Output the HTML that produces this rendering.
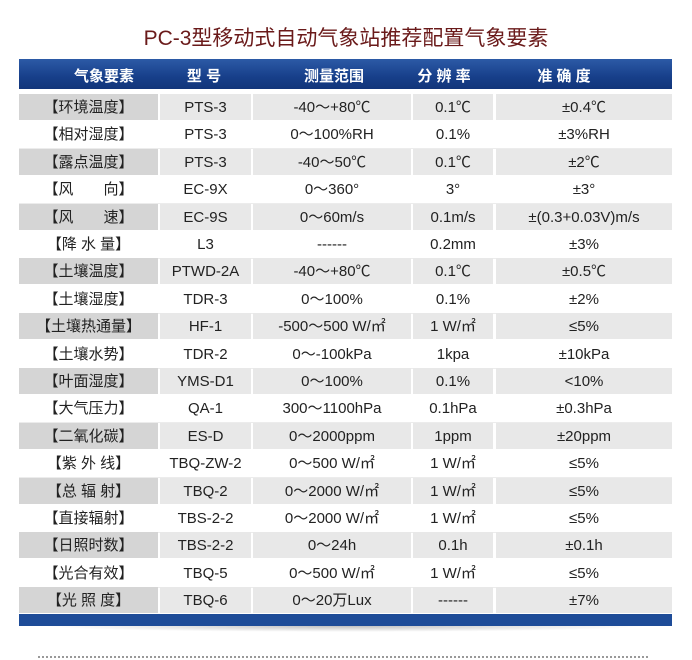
<!DOCTYPE html><html><head><meta charset="utf-8"><style>
body{margin:0;width:692px;height:660px;background:#fff;font-family:"Liberation Sans","Noto Sans CJK SC",sans-serif;position:relative;overflow:hidden}
.t{position:absolute;top:22px;left:0;width:692px;text-align:center;font-size:21px;color:#6a1a1a}
.h{position:absolute;left:19px;top:59px;width:653px;height:30px;background:linear-gradient(#2c5aa6,#173f8a 60%,#12357a)}
.h span{position:absolute;top:6px;color:#fff;font-weight:bold;font-size:15px;text-align:center}
.r{position:absolute;left:19px;width:653px;height:27px;font-size:15px;color:#222}
.r div{position:absolute;top:0;height:26px;line-height:27px;text-align:center;white-space:pre}
.g div{background:#e8e8e8}.g div:first-child{background:#d5d5d5}
.w{border-bottom:1px solid #ececec}
.b{position:absolute;left:19px;top:614px;width:653px;height:12px;background:#1e4c98}
.s{position:absolute;left:40px;top:626px;width:610px;height:6px;background:radial-gradient(ellipse at center top,rgba(0,0,0,.25),rgba(0,0,0,0) 70%)}
.d{position:absolute;left:38px;top:656px;width:610px;border-top:2px dotted #999}
</style></head><body>
<div class="t">PC-3型移动式自动气象站推荐配置气象要素</div>
<div class="h"><span style="left:30px;width:110px">气象要素</span><span style="left:150px;width:70px">型 号</span><span style="left:250px;width:130px">测量范围</span><span style="left:385px;width:80px">分 辨 率</span><span style="left:480px;width:130px">准 确 度</span></div>
<div id="rows"></div>
<div class="b"></div><div class="s"></div><div class="d"></div>
<script>
var d=[["【环境温度】","PTS-3","-40～+80℃","0.1℃","±0.4℃"],["【相对湿度】","PTS-3","0～100%RH","0.1%","±3%RH"],["【露点温度】","PTS-3","-40～50℃","0.1℃","±2℃"],["【风　　向】","EC-9X","0～360°","3°","±3°"],["【风　　速】","EC-9S","0～60m/s","0.1m/s","±(0.3+0.03V)m/s"],["【降 水 量】","L3","------","0.2mm","±3%"],["【土壤温度】","PTWD-2A","-40～+80℃","0.1℃","±0.5℃"],["【土壤湿度】","TDR-3","0～100%","0.1%","±2%"],["【土壤热通量】","HF-1","-500～500 W/㎡","1 W/㎡","≤5%"],["【土壤水势】","TDR-2","0～-100kPa","1kpa","±10kPa"],["【叶面湿度】","YMS-D1","0～100%","0.1%","<10%"],["【大气压力】","QA-1","300～1100hPa","0.1hPa","±0.3hPa"],["【二氧化碳】","ES-D","0～2000ppm","1ppm","±20ppm"],["【紫 外 线】","TBQ-ZW-2","0～500 W/㎡","1 W/㎡","≤5%"],["【总 辐 射】","TBQ-2","0～2000 W/㎡","1 W/㎡","≤5%"],["【直接辐射】","TBS-2-2","0～2000 W/㎡","1 W/㎡","≤5%"],["【日照时数】","TBS-2-2","0～24h","0.1h","±0.1h"],["【光合有效】","TBQ-5","0～500 W/㎡","1 W/㎡","≤5%"],["【光 照 度】","TBQ-6","0～20万Lux","------","±7%"]];
var c=[[0,139],[141,91],[234,158],[394,80],[477,176]],h="";
d.forEach(function(r,i){h+='<div class="r '+(i%2?'w':'g')+'" style="top:'+(94+i*27.4)+'px">';r.forEach(function(t,j){h+='<div style="left:'+c[j][0]+'px;width:'+c[j][1]+'px">'+t+'</div>'});h+='</div>'});
document.getElementById('rows').innerHTML=h;
</script></body></html>
